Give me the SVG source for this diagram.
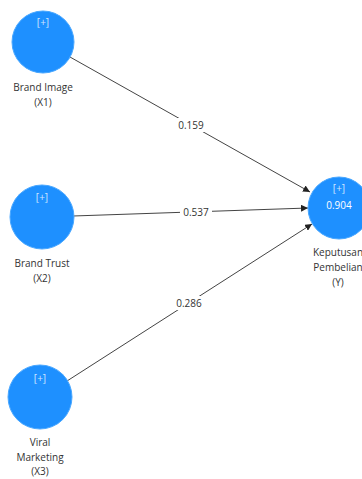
<svg xmlns="http://www.w3.org/2000/svg" width="362" height="479" viewBox="0 0 362 479">
<style>
.n{fill:#1e90ff;stroke:#4aa8ff;stroke-width:1}
.t{font-family:"Open Sans","Noto Sans",sans-serif;font-size:10px;fill:#333;text-anchor:middle}
.w{font-family:"Open Sans","Noto Sans",sans-serif;font-size:10px;fill:#cfe6ff;text-anchor:middle}
.v{font-family:"Open Sans","Noto Sans",sans-serif;font-size:10px;fill:#ffffff;text-anchor:middle}
.e{stroke:#444;stroke-width:1;fill:none;marker-end:url(#a)}
.lb{fill:#ffffff}
</style>
<defs>
<marker id="a" viewBox="0 0 10 10" refX="10" refY="5" markerWidth="7" markerHeight="7" orient="auto" markerUnits="userSpaceOnUse">
<path d="M0,0 L10,5 L0,10 z" fill="#222"/>
</marker>
</defs>
<rect width="362" height="479" fill="#ffffff"/>
<g id="connectors">
<line class="e" x1="70" y1="57" x2="310" y2="192"/>
<line class="e" x1="73" y1="216" x2="308" y2="208"/>
<line class="e" x1="67" y1="381" x2="312" y2="224"/>
<rect class="lb" x="175" y="118" width="32" height="14"/>
<text class="t" x="191" y="129">0.159</text>
<rect class="lb" x="180" y="205" width="32" height="14"/>
<text class="t" x="196" y="216">0.537</text>
<rect class="lb" x="173" y="296" width="32" height="14"/>
<text class="t" x="189" y="307">0.286</text>
</g>
<g id="X1">
<circle class="n" cx="43" cy="42" r="31"/>
<text class="w" x="43" y="26">[+]</text>
<text class="t" x="43" y="91">Brand Image</text>
<text class="t" x="43" y="106">(X1)</text>
</g>
<g id="X2">
<circle class="n" cx="42" cy="217" r="32"/>
<text class="w" x="42" y="201">[+]</text>
<text class="t" x="42" y="267">Brand Trust</text>
<text class="t" x="42" y="282">(X2)</text>
</g>
<g id="X3">
<circle class="n" cx="40" cy="397" r="32"/>
<text class="w" x="40" y="382">[+]</text>
<text class="t" x="40" y="446">Viral</text>
<text class="t" x="40" y="461">Marketing</text>
<text class="t" x="40" y="475">(X3)</text>
</g>
<g id="Y">
<circle class="n" cx="339" cy="208" r="31"/>
<text class="w" x="339" y="192">[+]</text>
<text class="v" x="339" y="209">0.904</text>
<text class="t" x="338" y="256">Keputusan</text>
<text class="t" x="338" y="271">Pembelian</text>
<text class="t" x="338" y="286">(Y)</text>
</g>
</svg>
